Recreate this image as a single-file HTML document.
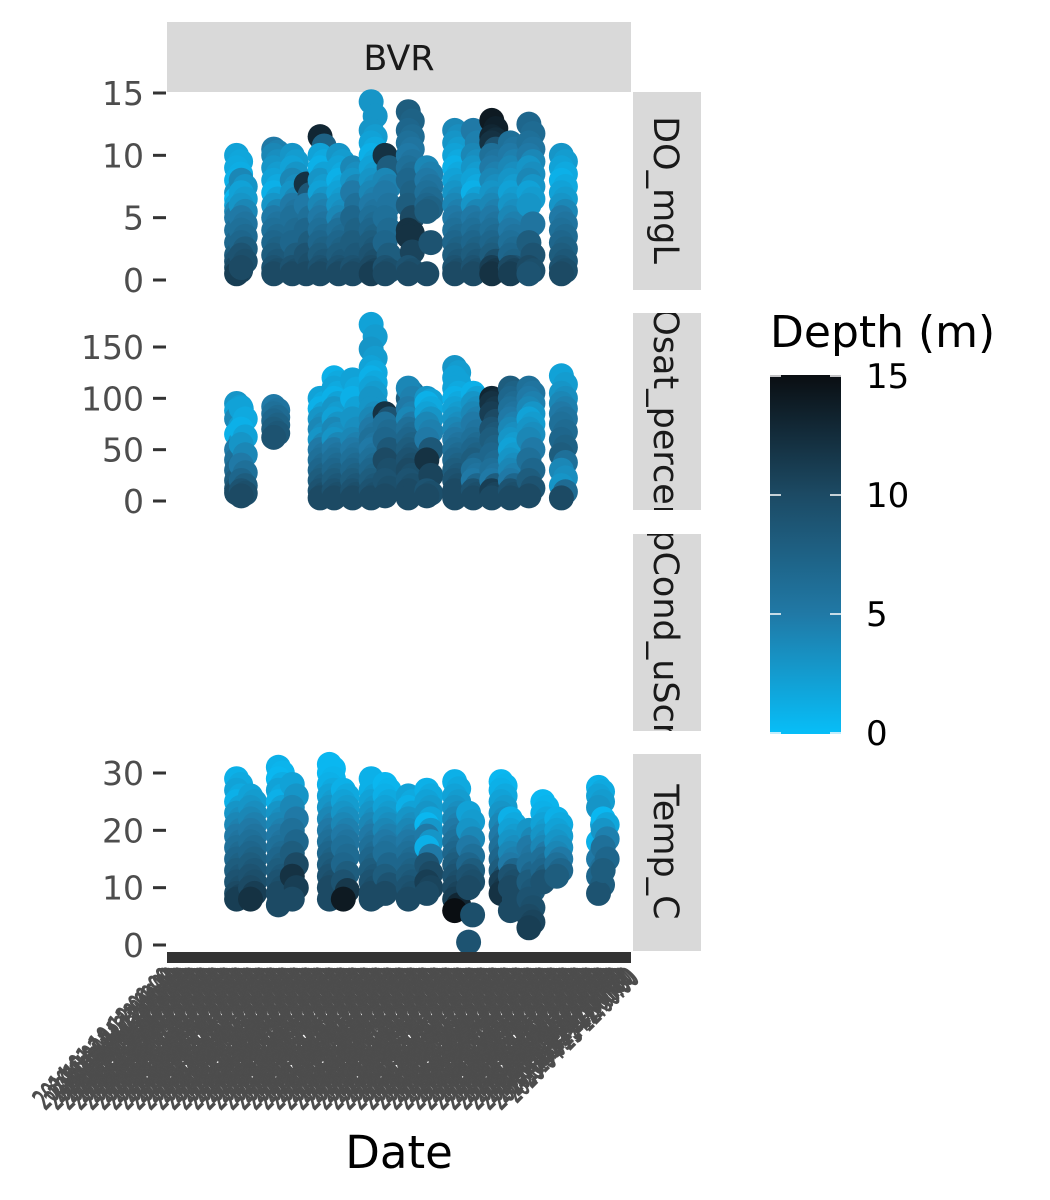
<!DOCTYPE html>
<html><head><meta charset="utf-8">
<style>
html,body{margin:0;padding:0;background:#fff;}
svg{display:block;font-family:"DejaVu Sans","Liberation Sans",sans-serif;}
</style></head>
<body>
<svg id="chart" width="1050" height="1200" viewBox="0 0 1050 1200" xmlns="http://www.w3.org/2000/svg">
<defs>
<linearGradient id="cbar" x1="0" y1="1" x2="0" y2="0">
<stop offset="0" stop-color="#07bef8"/>
<stop offset="0.333" stop-color="#2079a6"/>
<stop offset="0.667" stop-color="#1c4a64"/>
<stop offset="1" stop-color="#0a0e12"/>
</linearGradient>
<clipPath id="c1"><rect x="633" y="92" width="68" height="198"/></clipPath>
<clipPath id="c2"><rect x="633" y="313" width="68" height="197"/></clipPath>
<clipPath id="c3"><rect x="633" y="534" width="68" height="197"/></clipPath>
<clipPath id="c4"><rect x="633" y="754" width="68" height="197"/></clipPath>
</defs>
<rect x="167" y="22" width="464" height="70" fill="#d9d9d9"/>
<text x="399" y="70" font-size="35" fill="#1a1a1a" text-anchor="middle">BVR</text>
<g>
<rect x="633" y="92" width="68" height="198" fill="#d9d9d9"/>
<rect x="633" y="313" width="68" height="197" fill="#d9d9d9"/>
<rect x="633" y="534" width="68" height="197" fill="#d9d9d9"/>
<rect x="633" y="754" width="68" height="197" fill="#d9d9d9"/>
<g clip-path="url(#c1)"><text transform="translate(654,190) rotate(90)" font-size="35" fill="#1a1a1a" text-anchor="middle">DO_mgL</text></g>
<g clip-path="url(#c2)"><text transform="translate(654,411) rotate(90)" font-size="35" fill="#1a1a1a" text-anchor="middle">DOsat_percent</text></g>
<g clip-path="url(#c3)"><text transform="translate(654,632) rotate(90)" font-size="35" fill="#1a1a1a" text-anchor="middle">SpCond_uScm</text></g>
<g clip-path="url(#c4)"><text transform="translate(654,852) rotate(90)" font-size="35" fill="#1a1a1a" text-anchor="middle">Temp_C</text></g>
</g>
<g id="marks"></g>
<g id="axes"></g>
<g id="xlabels"></g>
<text x="399" y="1168" font-size="45" fill="#000" text-anchor="middle">Date</text>
<g>
<text x="770" y="347" font-size="44" fill="#000">Depth (m)</text>
<rect x="770" y="375" width="71" height="359" fill="url(#cbar)"/>
<g id="legticks"></g>
</g>
</svg>
<script>
const NS="http://www.w3.org/2000/svg";
// x positions in date units (0..100 over panel width)
const doDates=[15,16,23,27,30,33,37,40,44,47,52,56,62,66,70,74,78,85];
const doValues=[
[10,9,8,7,6.5,6,5.5,5,4,3,2,1.5,1,0.5],
[8,7,6,5,4,3,2,1],
[10.5,10,9,8,7,6,5,4,3,2,1,0.5],
[10,9,8,7,6,5,3,1,0.5],
[7.7,6,4,2,0.5],
[11.5,10,9,8,7,6,5,4,3,2,1,0.5],
[10,9,8,7,6,5,4,3,2,1,0.5],
[9,8,7,5,3,1,0.5],
[14.3,12,11,10,9,8,7,6,5,4,3,2,1,0.5],
[10,8,7,5,3,1,0.5],
[13.5,12,11,10,9,8,6,4,3.5,1,0.5],
[9,8,7,6,5.5,0.5],
[12,11,10,9,8,7,6,5,4,3,2,1,0.5],
[12,10,9,8,7,6,5,4,3,2,1,0.5],
[12.8,11.5,11,10,9,8,7,6,5,4,3,2,1,0.5],
[11,10,9,8,7,6,5,4,3,2,1,1,0.5],
[12.5,11,10,9,8,7,6,3,1,0.5],
[10,9,8,7,6,5,4,3,2,1,0.5]];
const doDepths=[
[2,1.5,1,3,0.5,2,4,5,6,7,8,9,10,11],
[4,2,3,5,6,7,9,10],
[5,4,3,2,1,3,5,6,7,8,9,10],
[3,2,4,3,5,6,7,9,10],
[12,5,7,9,10],
[13,2,1,3,2,4,5,6,7,8,9,10],
[3,2,1,2,3,4,6,7,8,9,10],
[4,3,5,7,8,9,10],
[3,3,2,1,2,3,4,5,6,7,8,9,10,11],
[12,4,5,6,7,9,10],
[8,7,6,5,6,7,8,12,12,9,10],
[4,5,6,7,8,10],
[4,3,2,1,2,3,4,5,6,7,8,9,10],
[5,4,3,2,1,3,5,6,7,8,9,10],
[14,13,12,6,5,4,3,4,5,6,7,8,11,12],
[6,5,4,3,2,3,4,5,6,7,8,10,11],
[7,6,5,3,4,2,3,8,10,9],
[3,2,1,2,3,5,6,7,8,9,10]];
const satDates=[15,16,23,33,36,40,44,47,52,56,62,66,70,74,78,85];
const satValues=[
[95,88,80,65,50,40,30,20,12,8],
[90,70,55,35,20,10,5],
[92,85,78,70,62],
[100,90,80,70,60,50,40,30,20,10,3],
[120,110,100,90,80,70,60,50,40,30,20,10,3],
[118,100,80,60,50,40,30,20,10,3],
[172,148,130,120,110,100,90,80,70,60,50,40,30,20,10,3],
[85,75,60,40,20,5],
[100,110,90,80,70,60,50,40,30,20,10,3],
[100,95,85,75,60,40,10,5],
[130,120,110,100,90,80,70,60,50,40,30,20,10,3],
[105,95,85,75,60,50,40,30,20,10,3],
[100,95,85,70,60,45,30,20,10,3],
[110,100,90,80,70,60,50,40,30,20,10,3],
[110,100,90,80,70,60,40,20,5],
[122,105,95,85,75,60,45,30,15,3]];
const satDepths=[
[3,2,4,1,5,6,7,8,9,10],
[2,1,3,5,7,9,10],
[5,6,7,8,9],
[2,1,3,4,3,5,6,7,8,9,10],
[1,2,1,3,2,4,3,5,6,7,8,9,10],
[2,1,3,4,5,6,7,8,9,10],
[2,3,2,1,2,3,3,4,5,6,5,6,7,8,9,10],
[12,6,7,10,9,10],
[8,4,5,4,6,7,8,9,10,9,10,10],
[3,1,2,4,5,12,9,10],
[3,2,2,1,2,3,4,5,6,7,8,9,10,10],
[1,3,4,5,6,7,8,6,5,9,10],
[13,12,11,9,8,7,6,5,11,10],
[8,7,6,5,4,3,2,3,4,5,9,10],
[6,5,4,2,3,4,6,8,10],
[2,3,4,5,6,7,8,4,3,10]];
const tempDates=[15,18,24,27,35,38,44,47,52,56,62,65,72,74,78,81,84,93,94];
const tempValues=[
[29,27,25,23,21,19,17,15,13,11,9,8],
[26,24,22,20,18,16,14,12,10,8],
[31,29,27,25,23,21,19,17,15,13,11,9,7],
[28,24,20,16,12,8],
[31.5,30,28,26,24,22,20,18,16,14,12,10,8],
[27,25,23,21,19,17,14,11,8],
[29,27,25,23,21,19,17,15,13,11,9,8],
[28,26,24,22,20,18,16,12,9],
[26,24,22,20,18,16,14,12,10,8],
[27,25,23,21,19,17,14,11,9],
[28.5,26,24,22,20,18,16,14,12,10,8,6],
[23,20,17,14,12,10,0.5],
[28.5,27,25,23,21,19,17,15,13,11,9],
[22,20,18,16,14,12,10,6],
[20,17,14,11,8,5,3],
[25,23,21,19,17,15,13,11],
[22,20,18,16,14,12],
[27.5,26,24,18,15,12,9],
[22,20,17,13]];
const tempDepths=[
[1,2,1,3,4,5,6,7,8,9,10,11],
[2,3,4,5,6,7,8,9,10,12],
[1,0.5,2,1,3,4,5,6,7,8,9,10,10],
[2,4,6,8,12,10],
[0.5,0.5,1,2,3,4,5,6,7,8,9,10,10],
[1,2,3,4,5,6,7,9,14],
[1,1,2,3,4,5,6,7,8,9,10,10],
[0.5,1,2,3,4,5,6,8,10],
[2,1,3,4,5,6,7,8,9,10],
[1,2,3,0.5,5,1,9,11,10],
[1,2,3,4,5,6,7,8,9,10,11,15],
[2,3,5,7,9,10,9],
[0.5,1,2,3,4,5,6,7,8,11,12],
[1,2,3,4,5,9,10,10],
[3,5,6,8,9,10,11],
[0.5,1,2,3,4,6,7,9],
[1,2,3,4,6,8],
[1,2,3,1,5,7,9],
[0.5,3,6,8]];
const doTicks=[0,5,10,15], satTicks=[0,50,100,150], tempTicks=[0,10,20,30];
const legendTicks=[0,5,10,15];

function xScale(u){return 167+u*4.64;}
function lin(d0,d1,r0,r1){return v=>r0+(v-d0)/(d1-d0)*(r1-r0);}
const yDO=lin(0,15,280,93), ySat=lin(0,150,501,347), yTemp=lin(0,30,945,773);
const stops=[[0,[7,190,248]],[5,[32,121,166]],[10,[28,74,100]],[15,[10,14,18]]];
function col(d){
  for(let i=0;i<stops.length-1;i++){
    const a=stops[i],b=stops[i+1];
    if(d<=b[0]){const t=Math.max(0,(d-a[0])/(b[0]-a[0]));
      return 'rgb('+a[1].map((c,k)=>Math.round(c+(b[1][k]-c)*t)).join(',')+')';}
  }
  return 'rgb(10,14,18)';
}
const marks=document.getElementById('marks');
function addDot(g,cx,cy,fill){
  const c=document.createElementNS(NS,'circle');
  c.setAttribute('cx',cx);
  c.setAttribute('cy',cy);
  c.setAttribute('r',12.5);
  c.setAttribute('fill',fill);
  
  
  g.appendChild(c);
}
function panel(name,dates,vals,deps,ys){
  const g=document.createElementNS(NS,'g');
  
  
  dates.forEach((u,i)=>{
    const vs=vals[i];
    vs.forEach((v,j)=>{
      addDot(g,xScale(u),ys(v),col(deps[i][j]));
      if(j<vs.length-1){
        addDot(g,xScale(u)+4,ys((v+vs[j+1])/2),col((deps[i][j]+deps[i][j+1])/2));
      }
    });
  });
  marks.appendChild(g);
}
panel('do-panel-points',doDates,doValues,doDepths,yDO);
panel('dosat-panel-points',satDates,satValues,satDepths,ySat);
panel('temp-panel-points',tempDates,tempValues,tempDepths,yTemp);

const axes=document.getElementById('axes');
function yaxis(name,ticks,ys){
  ticks.forEach(t=>{
    const y=ys(t);
    const l=document.createElementNS(NS,'line');
    l.setAttribute('x1',153);l.setAttribute('x2',166);l.setAttribute('y1',y);l.setAttribute('y2',y);
    l.setAttribute('stroke','#333');l.setAttribute('stroke-width',3);
    
    
    axes.appendChild(l);
    const tx=document.createElementNS(NS,'text');
    tx.setAttribute('x',144);tx.setAttribute('y',y+12);tx.setAttribute('font-size',33);
    tx.setAttribute('fill','#4d4d4d');tx.setAttribute('text-anchor','end');
    tx.textContent=t;
    
    
    axes.appendChild(tx);
  });
}
yaxis('do-y-axis',doTicks,yDO);
yaxis('dosat-y-axis',satTicks,ySat);
yaxis('temp-y-axis',tempTicks,yTemp);
const band=document.createElementNS(NS,'rect');
band.setAttribute('x',167);band.setAttribute('y',952);band.setAttribute('width',464);band.setAttribute('height',11);
band.setAttribute('fill','#333');


axes.appendChild(band);
const xl=document.getElementById('xlabels');
const months=['01','02','03','04','05','06','07','08','09','10','11','12'];
for(let i=0;i<160;i++){
  const x=176+i*2.92;
  const s='20'+(14+(i%9))+'-'+months[i%12]+'-'+(10+(i%18))+' 12:00:00';
  const t=document.createElementNS(NS,'text');
  t.setAttribute('transform','translate('+x+',980) rotate(-45)');
  t.setAttribute('font-size',28);
  t.setAttribute('fill','#4d4d4d');
  t.setAttribute('stroke','#4d4d4d');
  t.setAttribute('stroke-width','1.2');
  t.setAttribute('text-anchor','end');
  t.setAttribute('textLength',[185,165,150,175][i%4]);
  t.setAttribute('lengthAdjust','spacingAndGlyphs');
  t.textContent=s;
  
  
  xl.appendChild(t);
}
const lt=document.getElementById('legticks');
const yL=lin(0,15,733,376);
legendTicks.forEach(v=>{
  const y=yL(v);
  [770,830].forEach(x0=>{
    const l=document.createElementNS(NS,'line');
    l.setAttribute('x1',x0);l.setAttribute('x2',x0+11);l.setAttribute('y1',y);l.setAttribute('y2',y);
    l.setAttribute('stroke','#fff');l.setAttribute('stroke-width',1.5);
    
    
    lt.appendChild(l);
  });
  const t=document.createElementNS(NS,'text');
  t.setAttribute('x',866);t.setAttribute('y',y+12);t.setAttribute('font-size',34);t.setAttribute('fill','#000');
  t.textContent=v;
  
  
  lt.appendChild(t);
});
</script>
</body></html>
